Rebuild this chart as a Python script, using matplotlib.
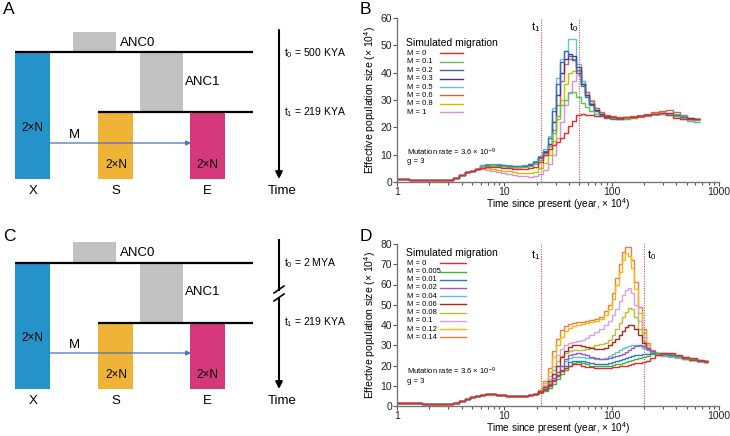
import numpy as np
import matplotlib
matplotlib.use("Agg")
import matplotlib.pyplot as plt
from matplotlib.patches import Rectangle
import matplotlib.transforms as mtransforms

plt.rcParams['font.family'] = 'Liberation Sans'
plt.rcParams['mathtext.fontset'] = 'custom'
plt.rcParams['mathtext.rm'] = 'Liberation Sans'
plt.rcParams['mathtext.it'] = 'Liberation Sans'
plt.rcParams['mathtext.default'] = 'regular'

# ---- panel B: step edges (x 10^4 years) and Ne (x 10^4) per migration rate
t_B = [1.0, 1.3, 1.7, 2.2, 2.8, 3.3, 3.8, 4.3, 4.8, 5.3, 5.9, 6.6, 7.4, 8.3, 9.3,
       10.4, 11.7, 13.1, 14.7, 16.5, 18.5, 20.7, 23.0, 25.4, 27.8, 30.3, 33.0,
       36.0, 39.3, 43.0, 47.0, 51.5, 56.5, 62.0, 68.5, 76.0, 85, 96, 110, 127,
       147, 172, 200, 235, 275, 320, 370, 430, 500, 580, 670]
b_early = [1.0, 0.8, 0.7, 0.7, 0.9, 1.6, 2.6, 3.5, 4.2, 4.8]
b_m0 = [5.3, 5.5, 5.5, 5.4, 5.2, 5.0, 4.9, 4.8, 4.8, 5.0, 5.5, 7.5, 10, 12, 13.5, 14.5, 16, 18, 20.5, 22.5,
        24.5, 24.8, 24.6, 24.4, 24.2, 24, 23.8, 23.6, 23.5, 23.6, 23.8, 24.2, 24.6, 25, 25.2, 24.6, 23.5, 23.2, 23, 23]
b_m01 = [5.7, 6.0, 6.1, 6.0, 5.8, 5.6, 5.5, 5.4, 5.5, 5.8, 6.5, 8, 10, 13, 18, 24, 28, 30, 32.5, 33,
         31, 29, 27.5, 26, 25, 24.2, 23.8, 23.5, 23.4, 23.5, 23.7, 24, 24.3, 24.7, 25, 24.8, 24, 23, 22.3, 22]
b_m02 = [6.0, 6.3, 6.4, 6.3, 6.1, 5.9, 5.8, 5.8, 6.0, 6.5, 7.5, 9, 11.5, 16, 26, 36, 44, 48, 46, 44.5,
         40, 35, 31, 28, 26, 24.5, 23.5, 23.2, 23.2, 23.4, 23.6, 24, 24.4, 24.8, 25, 25, 24.6, 23.8, 23.2, 23]
b_m03 = [5.8, 6.1, 6.2, 6.1, 5.9, 5.7, 5.6, 5.6, 5.8, 6.3, 7.3, 9, 11, 14, 22, 32, 40, 45, 47, 46,
         42, 36, 32, 28.5, 26.5, 25, 24, 23.5, 23.3, 23.4, 23.6, 24, 24.4, 24.8, 25.2, 25.2, 24.5, 23.8, 23.3, 23]
b_m05 = [6.1, 6.5, 6.7, 6.6, 6.4, 6.2, 6.0, 6.0, 6.2, 6.7, 7.6, 9.5, 12, 17, 27, 38, 45, 48, 52.5, 52.5,
         43, 37, 32, 28.5, 26, 24.5, 23.8, 23.5, 23.4, 23.5, 23.7, 24, 24.4, 24.8, 25.2, 25.3, 24.8, 24, 23.2, 22.8]
b_m06 = [5.8, 6.0, 6.1, 6.0, 5.8, 5.6, 5.5, 5.5, 5.7, 6.2, 7.2, 8.8, 10.5, 13, 19, 28, 37, 43, 45, 45,
         41, 37, 33, 29.5, 27, 25.5, 24.5, 24, 23.8, 23.8, 24, 24.4, 25, 25.5, 26, 26.2, 25.5, 24.5, 23.5, 23]
b_m08 = [5.0, 5.0, 4.8, 4.5, 4.2, 3.9, 3.6, 3.4, 3.2, 3.2, 3.5, 5, 7, 10, 15, 23, 30, 36, 40, 40.5,
         40.5, 36, 32, 29, 26.5, 25, 24, 23.3, 23, 23.2, 23.5, 24, 24.5, 25, 25.3, 25, 24.3, 23.6, 23.2, 23]
b_m1 = [4.6, 4.5, 4.2, 3.8, 3.4, 3.0, 2.6, 2.3, 2.1, 2.0, 2.1, 3, 4.5, 6.5, 10, 16, 22, 28, 33, 37,
        39, 36, 33, 30, 27, 25, 24, 23.3, 23, 23, 23.3, 23.8, 24.4, 25, 25.3, 25, 24.3, 23.6, 23.2, 23]
labels_B = ['M = 0', 'M = 0.1', 'M = 0.2', 'M = 0.3', 'M = 0.5', 'M = 0.6', 'M = 0.8', 'M = 1']
colors_B = ['#e8262b', '#5cbf5c', '#2e6db8', '#5a2d8c', '#62c6d2', '#d0683c', '#c6c000', '#d692d8']
series_B = [b_m0, b_m01, b_m02, b_m03, b_m05, b_m06, b_m08, b_m1]

# ---- panel D
t_D = [1.0, 1.3, 1.7, 2.2, 2.8, 3.3, 3.8, 4.3, 4.8, 5.3, 5.9, 6.6, 7.4, 8.3, 9.3,
       10.4, 11.7, 13.1, 14.7, 16.5, 18.5, 20.7, 23.0, 25.4, 27.8, 30.3, 33.0,
       36.0, 39.3, 43.0, 47.0, 51.5, 56.5, 62.0, 68.5, 76.0, 84, 92, 100, 108,
       116, 124, 132, 141, 151, 162, 175, 190, 207, 228, 255, 290, 335, 390,
       455, 530, 620, 720, 790]
d_early = [1.3, 1.4, 1.1, 0.9, 1.0, 1.7, 2.7, 3.6, 4.4, 5.0, 5.5, 5.7, 5.7, 5.5, 5.3,
           5.1, 5.0, 5.0, 5.1, 5.4, 6.0]
d_m0 = [6.8, 8.5, 10.5, 13, 15.5, 17.5, 19, 20, 20.5, 20.5, 20, 19.5, 19.2, 19, 19, 19, 19, 19.2, 19.4,
        19.6, 19.8, 20, 20.3, 20.6, 21, 21.3, 21.6, 22, 23.5, 25, 26, 26, 25, 24, 23.5, 22.5, 22]
d_m0005 = [6.5, 7.5, 9, 11, 13.5, 16, 18, 20, 21, 21.5, 21, 20.5, 20, 19.8, 19.8, 19.8, 20, 20.2, 20.5,
           20.8, 21.2, 21.6, 22, 22.5, 23, 23.5, 24, 24.8, 25.5, 26, 26, 25.5, 24.8, 24, 23.2, 22.5, 22]
d_m001 = [6.8, 8, 10, 12.5, 15, 18, 20, 21.5, 22, 22.3, 22, 21.5, 21, 20.7, 20.5, 20.6, 21, 21.5, 22,
          22.5, 23, 23.5, 24, 24.5, 25, 25.3, 25.6, 25.8, 26, 26, 25.8, 25.2, 24.5, 23.8, 23, 22.3, 22]
d_m002 = [7, 8.5, 11, 14, 17, 20, 23, 25, 25.8, 26, 25.5, 25, 24, 23.5, 23.2, 23.2, 23.5, 24, 24.5,
          25, 25.8, 26.5, 27.5, 28.5, 29.5, 30, 29.5, 28.5, 27, 26, 25.5, 25, 24.5, 23.8, 23, 22.3, 22]
d_m004 = [7, 9, 11.5, 14, 17, 20, 22, 23.5, 24, 24.2, 24, 23.8, 23.5, 23.3, 23.3, 23.8, 24.5, 25.5, 26.5,
          27.5, 28.5, 29, 29.5, 30, 30, 29.5, 28.5, 27.5, 26.5, 25.8, 25.2, 24.8, 24.3, 23.6, 23, 22.3, 22]
d_m006 = [7.2, 9.5, 12.5, 16, 20, 24, 27, 29, 30, 30, 29.5, 29, 28.5, 28, 28, 28.5, 30, 31.5, 33,
          35, 37, 39, 40, 40, 38, 35, 31, 28, 26.5, 25.5, 25, 24.5, 24, 23.5, 22.8, 22.2, 21.8]
d_m008 = [7.3, 10, 13.5, 18, 22, 24.5, 26, 27, 27.5, 27.5, 27.5, 28, 29, 30, 30.5, 31, 32.5, 35, 38,
          41, 44, 46.5, 48.5, 48, 44, 38, 32, 28, 26, 25.2, 24.8, 24.5, 24, 23.3, 22.7, 22.1, 21.8]
d_m01 = [7.5, 10.5, 15, 20, 25, 28, 30, 31, 31.5, 32, 32.5, 33.5, 35, 36.5, 38, 40, 42, 45, 48,
         52, 55, 57.5, 58.5, 56, 50, 42, 34, 29, 26.5, 25.2, 24.8, 24.3, 23.8, 23.2, 22.6, 22, 21.7]
d_m012 = [7.8, 11.5, 17, 24, 30, 34, 37, 38.5, 39.5, 40, 40.5, 41, 41.5, 42, 43, 45, 48, 53, 60,
          66, 72, 75.5, 74, 68, 58, 46, 36, 30, 27, 25.5, 25, 24.5, 24, 23.3, 22.7, 22.1, 21.8]
d_m014 = [8, 12.5, 19, 27, 33, 37.5, 39.5, 40.5, 41, 41.5, 41.5, 42, 42.5, 43, 44, 47, 50, 56, 63,
          70, 76, 78.5, 78.5, 72, 61, 49, 38, 31, 27.5, 25.8, 25, 24.5, 24, 23.3, 22.7, 22.1, 21.8]
labels_D = ['M = 0', 'M = 0.005', 'M = 0.01', 'M = 0.02', 'M = 0.04', 'M = 0.06',
            'M = 0.08', 'M = 0.1', 'M = 0.12', 'M = 0.14']
colors_D = ['#e8262b', '#3db53d', '#2a78c4', '#9a55bf', '#58c5cd', '#a52a1f',
            '#b7c032', '#d8a2e2', '#f6b80f', '#f07c42']
series_D = [d_m0, d_m0005, d_m001, d_m002, d_m004, d_m006, d_m008, d_m01, d_m012, d_m014]

t1_split = 21.9
t0_B, t0_D = 50, 200

c_X, c_S, c_E, c_anc = '#2592c9', '#efb337', '#d5397b', '#c2c2c2'

fig = plt.figure(figsize=(7.3, 4.36), dpi=100)
bg = fig.add_axes([0, 0, 1, 1])
bg.set_xlim(0, 730)
bg.set_ylim(436, 0)
bg.axis('off')


def schematic(y0, t0_text, broken):
    bg.add_patch(Rectangle((73, y0 + 32), 43, 20.5, color=c_anc, lw=0))
    bg.add_patch(Rectangle((140, y0 + 53), 43, 59, color=c_anc, lw=0))
    bg.add_patch(Rectangle((15, y0 + 53), 35, 126, color=c_X, lw=0))
    bg.add_patch(Rectangle((98, y0 + 113), 35, 66, color=c_S, lw=0))
    bg.add_patch(Rectangle((190, y0 + 113), 35, 66, color=c_E, lw=0))
    bg.plot([15, 253], [y0 + 52.5] * 2, color='k', lw=1.6, solid_capstyle='butt')
    bg.plot([98, 253], [y0 + 112.5] * 2, color='k', lw=1.6, solid_capstyle='butt')
    bg.annotate('', xy=(191, y0 + 143), xytext=(50, y0 + 143),
                arrowprops=dict(arrowstyle='-|>', color='#4a6fc2', lw=0.9,
                                mutation_scale=7, shrinkA=0, shrinkB=0))
    bg.text(120, y0 + 43, 'ANC0', fontsize=9.5, va='center')
    bg.text(185, y0 + 82, 'ANC1', fontsize=9.5, va='center')
    bg.text(32, y0 + 128, '2×N', fontsize=8.5, ha='center', va='center')
    bg.text(116, y0 + 165, '2×N', fontsize=8.5, ha='center', va='center')
    bg.text(207, y0 + 165, '2×N', fontsize=8.5, ha='center', va='center')
    bg.text(74, y0 + 135, 'M', fontsize=9.5, ha='center', va='center')
    for x, s in [(33, 'X'), (116, 'S'), (207, 'E')]:
        bg.text(x, y0 + 191, s, fontsize=9.5, ha='center', va='center')
    bg.text(282, y0 + 191, 'Time', fontsize=9.5, ha='center', va='center')
    bg.text(284, y0 + 53, t0_text, fontsize=7.5, va='center')
    bg.text(284, y0 + 112, r'$t_1$ = 219 KYA', fontsize=7.5, va='center')
    if broken:
        bg.plot([279, 279], [y0 + 30, y0 + 80], color='k', lw=1.5)
        bg.plot([274, 284], [y0 + 83, y0 + 76], color='k', lw=1.2)
        bg.plot([274, 284], [y0 + 91, y0 + 84], color='k', lw=1.2)
        start = y0 + 88
    else:
        start = y0 + 30
    bg.annotate('', xy=(279, y0 + 179), xytext=(279, start),
                arrowprops=dict(arrowstyle='-|>', color='k', lw=1.5,
                                mutation_scale=10, shrinkA=0, shrinkB=0))


schematic(0, r'$t_0$ = 500 KYA', False)
schematic(210, r'$t_0$ = 2 MYA', True)

bg.text(3, 10, 'A', fontsize=12.5, va='center')
bg.text(360, 10, 'B', fontsize=12.5, va='center')
bg.text(3, 236, 'C', fontsize=12.5, va='center')
bg.text(360, 236, 'D', fontsize=12.5, va='center')


def psmc_panel(rect, edges, early, series, labels, colors, ymax, t0, leg_top, leg_step,
               t_label_y, t0_x, line_end, mut_y):
    ax = fig.add_axes(rect)
    ax.patch.set_alpha(0)
    for vals, c in reversed(list(zip(series, colors))):
        ax.stairs(early + vals, edges, baseline=None, color=c, lw=1.0)
    ax.set_xscale('log')
    ax.set_xlim(1, 1000)
    ax.set_ylim(0, ymax)
    ax.set_xticks([1, 10, 100, 1000])
    ax.set_xticklabels(['1', '10', '100', '1000'])
    ax.set_yticks(np.arange(0, ymax + 1, 10))
    for s in ['top', 'right']:
        ax.spines[s].set_visible(False)
    for s in ['left', 'bottom']:
        ax.spines[s].set_color('#777777')
        ax.spines[s].set_linewidth(1.0)
    ax.tick_params(which='both', direction='out', colors='#555555', labelcolor='#222222',
                   labelsize=7.5, width=0.8)
    ax.tick_params(which='major', length=3, pad=0.5)
    ax.tick_params(which='minor', length=1.8)
    ax.set_xlabel('Time since present (year, × 10$^4$)', fontsize=7.2, labelpad=-0.5)
    ax.set_ylabel('Effective population size (× 10$^4$)', fontsize=7.5, labelpad=2)
    for tv in (t1_split, t0):
        ax.axvline(tv, color='#c8504d', lw=0.8, ls=(0, (1, 1.2)))
    tr = mtransforms.blended_transform_factory(ax.transData, ax.transAxes)
    ax.text(19.5, t_label_y, '$t_1$', transform=tr, fontsize=8, ha='center', va='center')
    ax.text(t0_x, t_label_y, '$t_0$', transform=tr, fontsize=8, ha='center', va='center')
    ax.text(0.028, leg_top, 'Simulated migration', transform=ax.transAxes, fontsize=7.5, va='center')
    for i, (lab, c) in enumerate(zip(labels, colors)):
        y = leg_top - 0.064 - i * leg_step
        ax.text(0.031, y, lab, transform=ax.transAxes, fontsize=5.5, va='center')
        ax.plot([0.134, line_end], [y, y], transform=ax.transAxes, color=c, lw=1.0)
    ax.text(0.031, mut_y, 'Mutation rate = 3.6 × 10$^{-9}$', transform=ax.transAxes,
            fontsize=5.5, va='center')
    ax.text(0.031, mut_y - 0.061, 'g = 3', transform=ax.transAxes, fontsize=5.5, va='center')
    return ax


psmc_panel([397 / 730, 1 - 182 / 436, 322 / 730, 164 / 436], t_B, b_early, series_B,
           labels_B, colors_B, 60, t0_B, 0.848, 0.0512, 0.945, 44.6, 0.205, 0.183)
psmc_panel([397 / 730, 1 - 406 / 436, 322 / 730, 162 / 436], t_D, d_early, series_D,
           labels_D, colors_D, 80, t0_D, 0.945, 0.0508, 0.933, 233, 0.214, 0.213)

fig.savefig('out.png', dpi=100)
